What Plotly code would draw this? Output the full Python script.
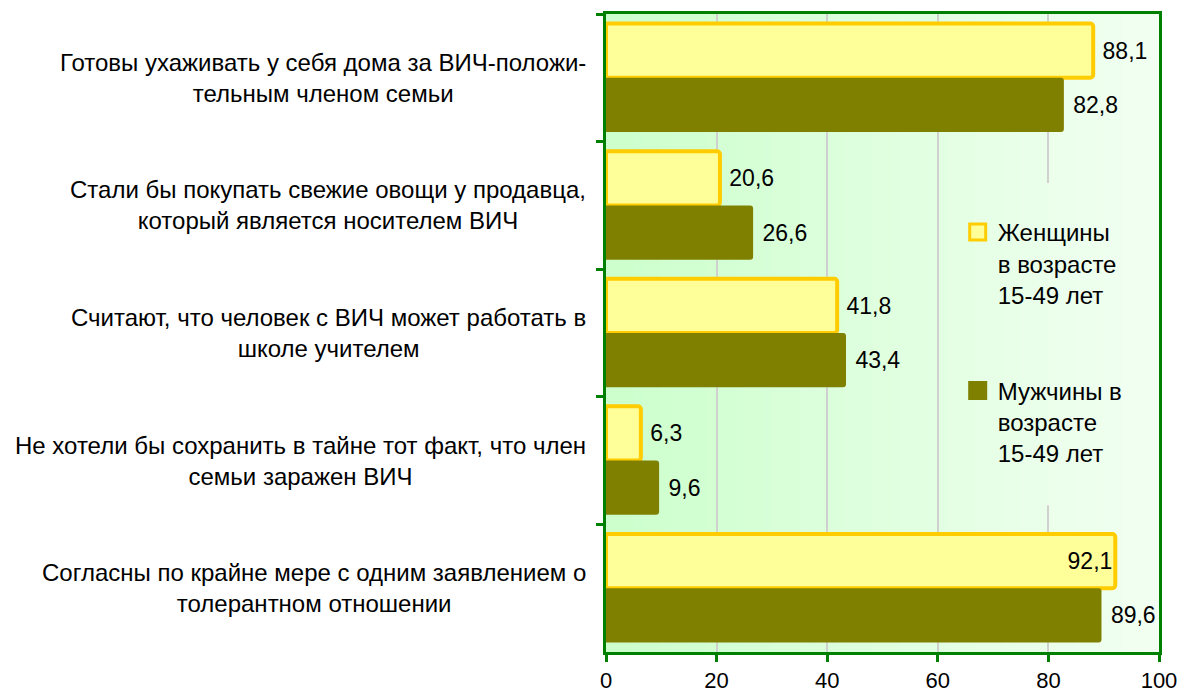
import plotly.graph_objects as go

categories = [
    "Готовы ухаживать у себя дома за ВИЧ-положи-<br>тельным членом семьи",
    "Стали бы покупать свежие овощи у продавца,<br>который является носителем ВИЧ",
    "Считают, что человек с ВИЧ может работать в<br>школе учителем",
    "Не хотели бы сохранить в тайне тот факт, что член<br>семьи заражен ВИЧ",
    "Согласны по крайне мере с одним заявлением о<br>толерантном отношении",
]
women = [88.1, 20.6, 41.8, 6.3, 92.1]
men = [82.8, 26.6, 43.4, 9.6, 89.6]
women_name = "Женщины<br>в возрасте<br>15-49 лет"
men_name = "Мужчины в<br>возрасте<br>15-49 лет"
x_ticks = [0, 20, 40, 60, 80, 100]

FONT = "Liberation Sans, Arial, sans-serif"
YELLOW_FILL = "#ffff99"
YELLOW_LINE = "#ffcc00"
OLIVE = "#808000"
GREEN = "#008000"


def fmt(v, outside):
    s = f"{v:.1f}".replace(".", ",")
    return ("\u00a0" + s) if outside else s


def pos(v):
    return "inside" if v > 90 else "outside"


fig = go.Figure()
fig.add_trace(go.Bar(
    y=categories, x=women, orientation="h", name=women_name,
    marker=dict(color=YELLOW_FILL, line=dict(color=YELLOW_LINE, width=4), cornerradius=3),
    text=[fmt(v, pos(v) == "outside") for v in women], textposition=[pos(v) for v in women],
    insidetextanchor="end", constraintext="none", cliponaxis=False,
    textfont=dict(family=FONT, size=23, color="black"),
    showlegend=False, hoverinfo="skip",
))
fig.add_trace(go.Bar(
    y=categories, x=men, orientation="h", name=men_name,
    marker=dict(color=OLIVE, line=dict(width=0), cornerradius=3),
    text=[fmt(v, pos(v) == "outside") for v in men], textposition=[pos(v) for v in men],
    insidetextanchor="end", constraintext="none", cliponaxis=False,
    textfont=dict(family=FONT, size=23, color="black"),
    showlegend=False, hoverinfo="skip",
))
# legend proxies (bigger square symbols)
fig.add_trace(go.Scatter(
    x=[None], y=[None], mode="markers", name=women_name, legendgroup="w",
    marker=dict(symbol="square", size=16, color=YELLOW_FILL, line=dict(color=YELLOW_LINE, width=3)),
))
fig.add_trace(go.Scatter(
    x=[None], y=[None], mode="markers", name=men_name, legendgroup="m",
    marker=dict(symbol="square", size=16, color=OLIVE, line=dict(color=OLIVE, width=3)),
))

shapes = []
n = 60
c0 = (204, 255, 204)
c1 = (242, 255, 242)
LX0, LX1, LY0, LY1 = 0.636, 0.995, 0.230, 0.735  # legend backdrop area
for i in range(n):
    t = i / (n - 1)
    col = "rgb(%d,%d,%d)" % tuple(round(a + (b - a) * t) for a, b in zip(c0, c1))
    x0, x1 = i / n, (i + 1) / n + 0.002
    shapes.append(dict(type="rect", xref="paper", yref="paper",
                       x0=x0, x1=x1, y0=0, y1=1,
                       fillcolor=col, line=dict(width=0), layer="below"))
    # same gradient over the legend area, drawn above to hide the gridline there
    a, b = max(x0, LX0), min(x1, LX1)
    if b > a:
        shapes.append(dict(type="rect", xref="paper", yref="paper",
                           x0=a, x1=b, y0=LY0, y1=LY1,
                           fillcolor=col, line=dict(width=0), layer="above"))

annotations = []
for c in categories:
    annotations.append(dict(
        x=0, xref="paper", y=c, yref="y", xanchor="right", yanchor="middle",
        xshift=-18, text=c, showarrow=False, align="center",
        font=dict(family=FONT, size=24, color="black"),
    ))

fig.update_layout(
    width=1180, height=695, autosize=False,
    margin=dict(l=606, r=21, t=14, b=43, autoexpand=False),
    paper_bgcolor="white", plot_bgcolor="rgba(0,0,0,0)",
    barmode="group", bargap=0.15, bargroupgap=0,
    font=dict(family=FONT, size=23, color="black"),
    shapes=shapes, annotations=annotations,
    legend=dict(
        x=0.636, xanchor="left", y=0.693, yanchor="top",
        font=dict(family=FONT, size=24, color="black"),
        traceorder="grouped", tracegroupgap=62, valign="top",
        bgcolor="rgba(0,0,0,0)", borderwidth=0,
    ),
    xaxis=dict(
        range=[0, 100], tickvals=x_ticks, showgrid=True, gridcolor="#d0d0d0", gridwidth=1.5,
        zeroline=False, showline=True, linecolor=GREEN, linewidth=3, mirror=True,
        ticks="outside", ticklen=7, tickwidth=3, tickcolor=GREEN, ticklabelstandoff=0,
        tickfont=dict(family=FONT, size=22, color="black"), automargin=False,
    ),
    yaxis=dict(
        categoryorder="array", categoryarray=categories, range=[4.5, -0.5],
        showticklabels=False, showgrid=False, zeroline=False,
        showline=True, linecolor=GREEN, linewidth=3, mirror=True,
        ticks="outside", tickson="boundaries", ticklen=7, tickwidth=3, tickcolor=GREEN,
        automargin=False,
    ),
)

fig.write_html("out.html", config={"displayModeBar": False},
               post_script="document.body.style.margin='0';")
